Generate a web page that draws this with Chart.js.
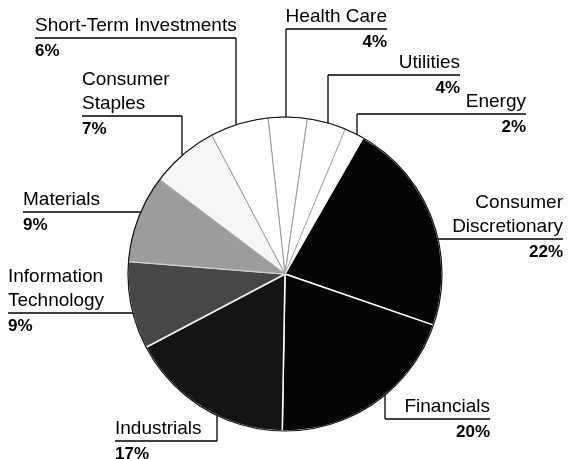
<!DOCTYPE html>
<html>
<head>
<meta charset="utf-8">
<script src="https://cdn.jsdelivr.net/npm/chart.js@4.4.1/dist/chart.umd.min.js"></script>
<style>
  html, body { margin: 0; padding: 0; background: #fff; }
  #wrap { width: 568px; height: 459px; position: relative; }
</style>
</head>
<body>
<div id="wrap"><canvas id="sectorChart"></canvas></div>
<script>
// Sector weights, clockwise from just left of 12 o'clock
const categories = ['Health Care', 'Utilities', 'Energy', 'Consumer Discretionary', 'Financials',
    'Industrials', 'Information Technology', 'Materials', 'Consumer Staples', 'Short-Term Investments'];
const shares = [4, 4, 2, 22, 20, 17, 9, 9, 7, 6];
const labelLines = [['Health Care'], ['Utilities'], ['Energy'], ['Consumer', 'Discretionary'], ['Financials'],
    ['Industrials'], ['Information', 'Technology'], ['Materials'], ['Consumer', 'Staples'], ['Short-Term Investments']];

// styling
const sliceColors = ['#ffffff', '#ffffff', '#ffffff', '#050505', '#050505',
    '#141414', '#474747', '#9c9c9c', '#f6f6f6', '#ffffff'];
const edgeColors = ['#999', '#999', '#aaa', '#fff', '#fff', '#fff', '#eee', '#ccc', '#999', '#999'];
const edgeWidths = [1, 1, 1, 1.5, 1.5, 1.5, 1.5, 1, 1, 1];

// where each callout sits: underline y, underline span, which way the leader runs
const labelLayout = [
    { lead: 'down', x1: 286, x2: 387, y: 29, align: 'right' },
    { lead: 'down', x1: 328, x2: 460, y: 75, align: 'right' },
    { lead: 'down', x1: 357, x2: 526, y: 114, align: 'right' },
    { lead: 'right', x2: 563, y: 239, align: 'right' },
    { lead: 'up', x1: 385, x2: 490, y: 419, align: 'right' },
    { lead: 'up', x1: 115, x2: 217, y: 441, align: 'left' },
    { lead: 'left', x1: 8, y: 313, align: 'left' },
    { lead: 'left', x1: 23, y: 212, align: 'left' },
    { lead: 'down', x1: 82, x2: 182, y: 116, align: 'left' },
    { lead: 'down', x1: 35, x2: 236, y: 38, align: 'left' }
];

const calloutPlugin = {
    id: 'callouts',
    afterDatasetsDraw(chart) {
        const ctx = chart.ctx;
        const arc = chart.getDatasetMeta(0).data[0];
        const cx = arc.x, cy = arc.y, r = arc.outerRadius;

        ctx.save();
        // thin outline round the pie
        ctx.beginPath();
        ctx.arc(cx, cy, r, 0, Math.PI * 2);
        ctx.strokeStyle = '#111';
        ctx.lineWidth = 1.2;
        ctx.stroke();

        ctx.strokeStyle = '#000';
        ctx.lineWidth = 1.3;
        ctx.fillStyle = '#000';
        labelLayout.forEach((lay, i) => {
            let x1 = lay.x1, x2 = lay.x2;
            if (lay.lead === 'left') x2 = cx - Math.sqrt(r * r - (lay.y - cy) ** 2);
            if (lay.lead === 'right') x1 = cx + Math.sqrt(r * r - (lay.y - cy) ** 2);

            ctx.beginPath();
            ctx.moveTo(x1, lay.y);
            ctx.lineTo(x2, lay.y);
            if (lay.lead === 'down' || lay.lead === 'up') {
                const lx = lay.align === 'right' ? x1 : x2;
                const dy = Math.sqrt(r * r - (lx - cx) ** 2);
                const ly = lay.lead === 'down' ? cy - dy : cy + dy;
                ctx.moveTo(lx, lay.y);
                ctx.lineTo(lx, ly);
            }
            ctx.stroke();

            const tx = lay.align === 'right' ? x2 : x1;
            ctx.textAlign = lay.align;
            ctx.textBaseline = 'alphabetic';
            ctx.font = '19px "Liberation Sans", Arial, sans-serif';
            const lines = labelLines[i];
            lines.forEach((t, k) => {
                ctx.fillText(t, tx, lay.y - 7 - (lines.length - 1 - k) * 24);
            });
            ctx.font = 'bold 17px "Liberation Sans", Arial, sans-serif';
            ctx.fillText(shares[i] + '%', tx, lay.y + 18);
        });
        ctx.restore();
    }
};

const sectorCtx = document.getElementById('sectorChart').getContext('2d');
const sectorChart = new Chart(sectorCtx, {
    type: 'pie',
    data: {
        labels: categories,
        datasets: [{
            data: shares,
            backgroundColor: sliceColors,
            borderColor: edgeColors,
            borderWidth: edgeWidths
        }]
    },
    options: {
        responsive: true,
        maintainAspectRatio: false,
        animation: false,
        rotation: -6.2,
        radius: 157,
        layout: { padding: { left: 128, right: 126, top: 117, bottom: 28 } },
        plugins: {
            legend: { display: false },
            tooltip: { enabled: false }
        }
    },
    plugins: [calloutPlugin]
});
</script>
</body>
</html>
